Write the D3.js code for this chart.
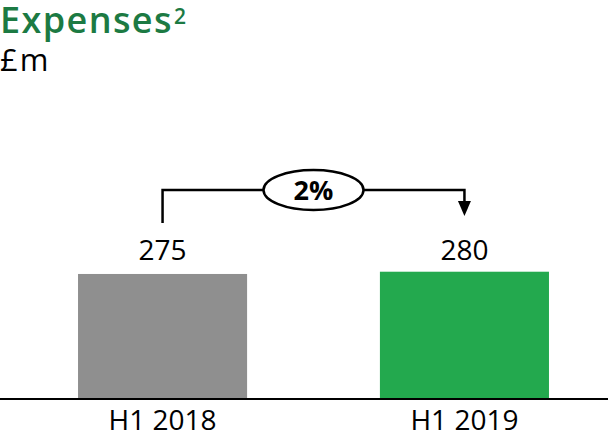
<!DOCTYPE html>
<html>
<head>
<meta charset="utf-8">
<script src="https://cdn.jsdelivr.net/npm/d3@7"></script>
<style>
  body { margin: 0; background: #fff; }
  text { font-family: "Open Sans", sans-serif; }
</style>
</head>
<body>
<script>
//Size
var w = 608;
var h = 433;

//Data
var periods = ["H1 2018", "H1 2019"];
var expenses = [275, 280];
var barColors = ["#8f8f8f", "#23a94e"];
var changeLabel = "2%";

var svg = d3.select("body").append("svg").attr("width", w).attr("height", h);

//Scales
var x = d3.scaleBand().domain(periods).range([9.5, 617.5]).paddingInner(0.44).paddingOuter(0.227);
var y = d3.scaleLinear().domain([0, 300]).range([398, 262.7]);

//Title
var title = svg.append("text").attr("x", 0).attr("y", 33)
  .style("font-size", "36px").style("font-weight", 600).style("fill", "#1c7a43");
title.append("tspan").style("letter-spacing", "1.4px").text("Expenses");
title.append("tspan").attr("dx", 1).attr("dy", -9).style("font-size", "21px").style("font-weight", 600).text("2");

svg.append("text").attr("x", 0).attr("y", 71).style("font-size", "31px").style("letter-spacing", "2px")
  .style("fill", "#000").text("£m");

//Bars
svg.selectAll(".bar")
  .data(expenses)
  .enter()
  .append("rect")
  .attr("class", "bar")
  .attr("x", function (d, i) { return x(periods[i]); })
  .attr("y", function (d) { return y(d); })
  .attr("width", x.bandwidth())
  .attr("height", function (d) { return y(0) - y(d); })
  .style("fill", function (d, i) { return barColors[i]; });

//Value labels
svg.selectAll(".val")
  .data(expenses)
  .enter()
  .append("text")
  .attr("class", "val")
  .attr("x", function (d, i) { return x(periods[i]) + x.bandwidth() / 2; })
  .attr("y", 260)
  .attr("text-anchor", "middle")
  .style("font-size", "28px")
  .text(function (d) { return d; });

//Baseline
svg.append("line").attr("x1", 0).attr("x2", w).attr("y1", y(0) + 1).attr("y2", y(0) + 1)
  .style("stroke", "#000").style("stroke-width", 2);

//Category labels
svg.selectAll(".cat")
  .data(periods)
  .enter()
  .append("text")
  .attr("class", "cat")
  .attr("x", function (d) { return x(d) + x.bandwidth() / 2; })
  .attr("y", 430)
  .attr("text-anchor", "middle")
  .style("font-size", "28px")
  .text(function (d) { return d; });

//Change bracket
var x1 = x(periods[0]) + x.bandwidth() / 2;
var x2 = x(periods[1]) + x.bandwidth() / 2;
var yTop = 190;
svg.append("path")
  .attr("d", "M" + x1 + ",223V" + yTop + "H" + x2 + "V203")
  .style("fill", "none").style("stroke", "#000").style("stroke-width", 2.5);
svg.append("path")
  .attr("d", "M" + (x2 - 6.5) + ",201L" + (x2 + 6.5) + ",201L" + x2 + ",216Z")
  .style("fill", "#000");

var cx = (x1 + x2) / 2;
svg.append("ellipse").attr("cx", cx).attr("cy", yTop).attr("rx", 50).attr("ry", 20)
  .style("fill", "#fff").style("stroke", "#000").style("stroke-width", 2.5);
svg.append("text").attr("x", cx).attr("y", yTop + 10).attr("text-anchor", "middle")
  .style("font-size", "27px").style("font-weight", "bold").text(changeLabel);
</script>
</body>
</html>
